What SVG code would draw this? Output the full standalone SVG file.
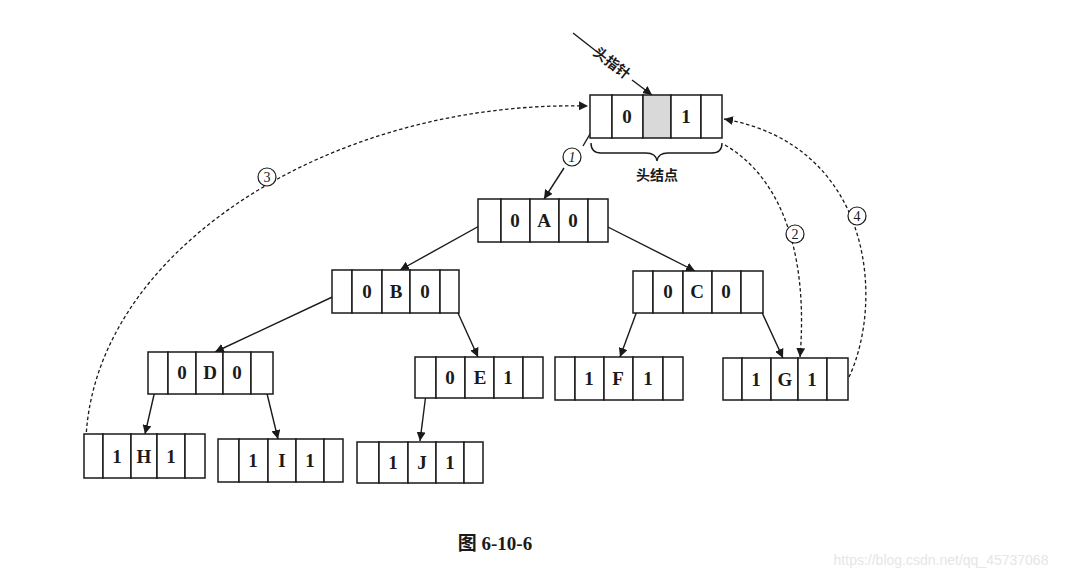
<svg xmlns="http://www.w3.org/2000/svg" width="1067" height="579" viewBox="0 0 1067 579">
<defs>
<style>
.cell{fill:#fff;stroke:#1a1a1a;stroke-width:1.5}
.t{font-family:"Liberation Serif",serif;font-size:19px;font-weight:bold;fill:#1a1a1a;text-anchor:middle}
.e{stroke:#1a1a1a;stroke-width:1.4;fill:none}
.d{stroke:#1a1a1a;stroke-width:1.3;fill:none;stroke-dasharray:3.5 2.5}
.c{fill:#fff;stroke:#1a1a1a;stroke-width:1.2}
.ct{font-family:"Liberation Serif",serif;font-size:14px;fill:#1a1a1a;text-anchor:middle}
.cn{font-family:"Noto Sans CJK SC",sans-serif;font-size:14px;font-weight:bold;fill:#1a1a1a;text-anchor:middle}
</style>
<marker id="ah" viewBox="0 0 10 10" refX="10" refY="5" markerWidth="9" markerHeight="9" markerUnits="userSpaceOnUse" orient="auto">
<path d="M0,0 L10,5 L0,10 z" fill="#1a1a1a"/>
</marker>
</defs>
<rect width="1067" height="579" fill="#fff"/>

<g id="connectors">
<line class="e" x1="573" y1="33" x2="596" y2="51"/>
<line class="e" x1="632" y1="80" x2="652" y2="95" marker-end="url(#ah)"/>
<line class="e" x1="600" y1="117" x2="583" y2="146"/>
<line class="e" x1="564" y1="168" x2="544" y2="199" marker-end="url(#ah)"/>
<line class="e" x1="490" y1="220" x2="400" y2="270" marker-end="url(#ah)"/>
<line class="e" x1="598" y1="222" x2="695" y2="271" marker-end="url(#ah)"/>
<line class="e" x1="343" y1="292" x2="215" y2="352" marker-end="url(#ah)"/>
<line class="e" x1="448" y1="291" x2="478" y2="357" marker-end="url(#ah)"/>
<line class="e" x1="644" y1="292" x2="620" y2="357" marker-end="url(#ah)"/>
<line class="e" x1="753" y1="293" x2="783" y2="358" marker-end="url(#ah)"/>
<line class="e" x1="159" y1="373" x2="145" y2="434" marker-end="url(#ah)"/>
<line class="e" x1="263" y1="377" x2="278" y2="439" marker-end="url(#ah)"/>
<line class="e" x1="428" y1="378" x2="420" y2="441" marker-end="url(#ah)"/>
<path class="d" d="M86,438 C95,250 330,100 588,106" marker-end="url(#ah)"/>
<path class="d" d="M725,145 C785,180 808,260 800,357" marker-end="url(#ah)"/>
<path class="d" d="M849,377 C885,300 872,145 724,119" marker-end="url(#ah)"/>
<path class="e" d="M591,143 Q591,153 601,153 L646,153 Q656,153 657,161 Q658,153 668,153 L712,153 Q722,153 722,143" stroke-width="1.3"/>
</g>

<g id="labels">
<text class="cn" x="612" y="68" transform="rotate(38 612 63)">头指针</text>
<text class="cn" x="657" y="180">头结点</text>
<circle class="c" cx="572" cy="157" r="9"/>
<text class="ct" x="572" y="162" font-style="italic">1</text>
<circle class="c" cx="267" cy="177" r="9"/>
<text class="ct" x="267" y="182">3</text>
<circle class="c" cx="795" cy="234" r="9"/>
<text class="ct" x="795" y="239">2</text>
<circle class="c" cx="857" cy="216" r="9"/>
<text class="ct" x="857" y="221">4</text>
</g>

<g id="head">
<rect class="cell" x="590" y="95" width="22" height="43"/>
<rect class="cell" x="612" y="95" width="31" height="43"/>
<rect class="cell" x="643" y="95" width="28" height="43" style="fill:#d9d9d9"/>
<rect class="cell" x="671" y="95" width="30" height="43"/>
<rect class="cell" x="701" y="95" width="21" height="43"/>
<text class="t" x="627" y="123">0</text>
<text class="t" x="686" y="123">1</text>
</g>

<g id="nodeA">
<rect class="cell" x="478" y="199" width="23" height="43"/>
<rect class="cell" x="501" y="199" width="29" height="43"/>
<rect class="cell" x="530" y="199" width="29" height="43"/>
<rect class="cell" x="559" y="199" width="29" height="43"/>
<rect class="cell" x="588" y="199" width="20" height="43"/>
<text class="t" x="515" y="227">0</text><text class="t" x="544" y="227">A</text><text class="t" x="573" y="227">0</text>
</g>

<g id="nodeB">
<rect class="cell" x="332" y="270" width="20" height="43"/>
<rect class="cell" x="352" y="270" width="30" height="43"/>
<rect class="cell" x="382" y="270" width="28" height="43"/>
<rect class="cell" x="410" y="270" width="30" height="43"/>
<rect class="cell" x="440" y="270" width="19" height="43"/>
<text class="t" x="367" y="298">0</text><text class="t" x="396" y="298">B</text><text class="t" x="425" y="298">0</text>
</g>

<g id="nodeC">
<rect class="cell" x="633" y="271" width="20" height="42"/>
<rect class="cell" x="653" y="271" width="30" height="42"/>
<rect class="cell" x="683" y="271" width="29" height="42"/>
<rect class="cell" x="712" y="271" width="29" height="42"/>
<rect class="cell" x="741" y="271" width="22" height="42"/>
<text class="t" x="668" y="298">0</text><text class="t" x="697" y="298">C</text><text class="t" x="726" y="298">0</text>
</g>

<g id="nodeD">
<rect class="cell" x="148" y="352" width="20" height="42"/>
<rect class="cell" x="168" y="352" width="28" height="42"/>
<rect class="cell" x="196" y="352" width="27" height="42"/>
<rect class="cell" x="223" y="352" width="28" height="42"/>
<rect class="cell" x="251" y="352" width="22" height="42"/>
<text class="t" x="182" y="379">0</text><text class="t" x="210" y="379">D</text><text class="t" x="237" y="379">0</text>
</g>

<g id="nodeE">
<rect class="cell" x="415" y="357" width="21" height="41"/>
<rect class="cell" x="436" y="357" width="29" height="41"/>
<rect class="cell" x="465" y="357" width="29" height="41"/>
<rect class="cell" x="494" y="357" width="29" height="41"/>
<rect class="cell" x="523" y="357" width="20" height="41"/>
<text class="t" x="450" y="384">0</text><text class="t" x="480" y="384">E</text><text class="t" x="508" y="384">1</text>
</g>

<g id="nodeF">
<rect class="cell" x="555" y="357" width="20" height="43"/>
<rect class="cell" x="575" y="357" width="29" height="43"/>
<rect class="cell" x="604" y="357" width="29" height="43"/>
<rect class="cell" x="633" y="357" width="30" height="43"/>
<rect class="cell" x="663" y="357" width="20" height="43"/>
<text class="t" x="589" y="385">1</text><text class="t" x="618" y="385">F</text><text class="t" x="648" y="385">1</text>
</g>

<g id="nodeG">
<rect class="cell" x="723" y="358" width="19" height="42"/>
<rect class="cell" x="742" y="358" width="29" height="42"/>
<rect class="cell" x="771" y="358" width="27" height="42"/>
<rect class="cell" x="798" y="358" width="29" height="42"/>
<rect class="cell" x="827" y="358" width="21" height="42"/>
<text class="t" x="756" y="386">1</text><text class="t" x="785" y="386">G</text><text class="t" x="812" y="386">1</text>
</g>

<g id="nodeH">
<rect class="cell" x="84" y="434" width="19" height="44"/>
<rect class="cell" x="103" y="434" width="28" height="44"/>
<rect class="cell" x="131" y="434" width="26" height="44"/>
<rect class="cell" x="157" y="434" width="28" height="44"/>
<rect class="cell" x="185" y="434" width="20" height="44"/>
<text class="t" x="117" y="463">1</text><text class="t" x="144" y="463">H</text><text class="t" x="171" y="463">1</text>
</g>

<g id="nodeI">
<rect class="cell" x="218" y="439" width="21" height="43"/>
<rect class="cell" x="239" y="439" width="29" height="43"/>
<rect class="cell" x="268" y="439" width="28" height="43"/>
<rect class="cell" x="296" y="439" width="28" height="43"/>
<rect class="cell" x="324" y="439" width="19" height="43"/>
<text class="t" x="253" y="467">1</text><text class="t" x="282" y="467">I</text><text class="t" x="310" y="467">1</text>
</g>

<g id="nodeJ">
<rect class="cell" x="357" y="442" width="22" height="41"/>
<rect class="cell" x="379" y="442" width="29" height="41"/>
<rect class="cell" x="408" y="442" width="28" height="41"/>
<rect class="cell" x="436" y="442" width="28" height="41"/>
<rect class="cell" x="464" y="442" width="19" height="41"/>
<text class="t" x="393" y="469">1</text><text class="t" x="422" y="469">J</text><text class="t" x="450" y="469">1</text>
</g>

<g id="caption">
<text x="495" y="550" font-family="'Liberation Serif','Noto Sans CJK SC',serif" font-size="19" font-weight="bold" fill="#1a1a1a" text-anchor="middle">图 6-10-6</text>
<text x="941" y="565" font-family="'Liberation Sans',sans-serif" font-size="14" fill="#e6e6e6" text-anchor="middle">https://blog.csdn.net/qq_45737068</text>
</g>
</svg>
